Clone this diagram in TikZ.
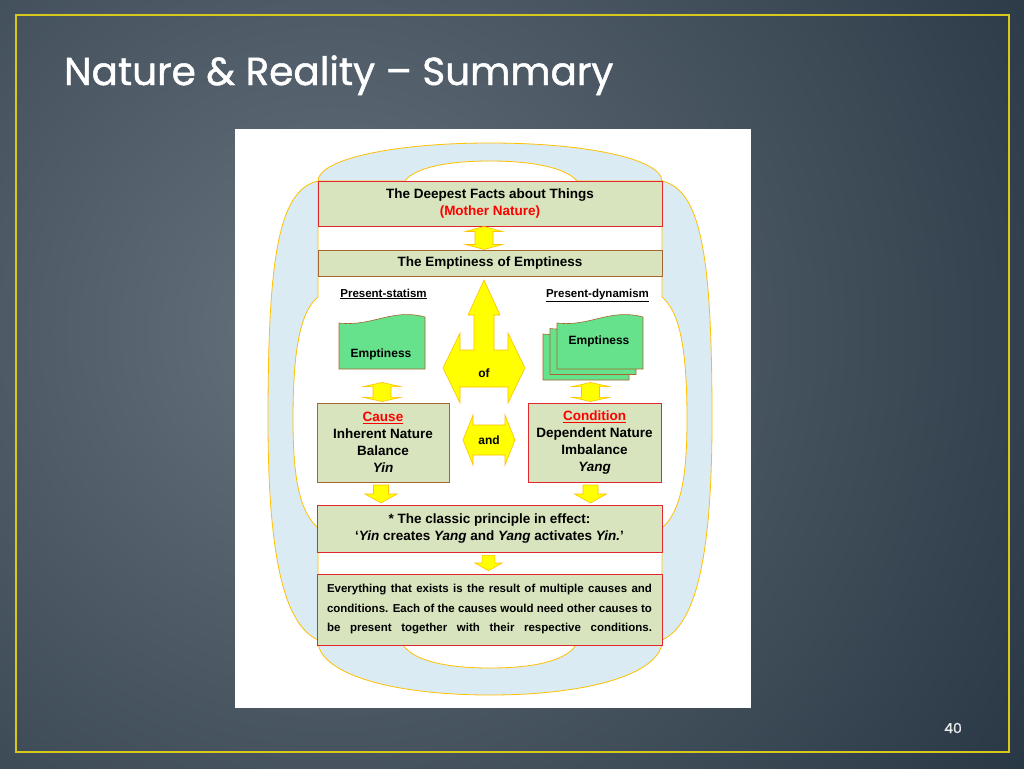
\documentclass[tikz,border=0pt]{standalone}
\usepackage{fontspec}
\setmainfont{Liberation Sans}
\newfontfamily\titlefont[FakeBold=1.2]{Poppins}
\usepackage{tikz}
\usetikzlibrary{positioning,calc}
\definecolor{SlideLight}{HTML}{66727C}
\definecolor{SlideDark}{HTML}{1C2B39}
\definecolor{FrameGold}{HTML}{D8C81C}
\definecolor{BandBlue}{HTML}{DAEBF3}
\definecolor{BandEdge}{HTML}{FFC000}
\definecolor{BoxOlive}{HTML}{D7E4BD}
\definecolor{EdgeRed}{HTML}{E0282E}
\definecolor{EdgeBrown}{HTML}{A9652F}
\definecolor{CardGreen}{HTML}{66E28D}
\definecolor{ArrowYellow}{HTML}{FFFF00}
\definecolor{TextRed}{HTML}{FF0000}
\tikzset{
  % Base box
  FB/.style={rectangle,fill=BoxOlive,draw,line width=1pt,
             align=center,inner sep=0pt,
             font=\fontsize{13.5}{17}\selectfont\bfseries},
  % Colour variants
  bR/.style={FB,draw=EdgeRed},
  bB/.style={FB,draw=EdgeBrown},
  % Loops, block arrows, cards
  band/.style={fill=BandBlue,draw=BandEdge,line width=0.8pt},
  yarr/.style={fill=ArrowYellow,draw=BandEdge,line width=0.6pt},
  card/.style={fill=CardGreen,draw=EdgeBrown,line width=0.6pt},
  % Label styles
  LB/.style={inner sep=0pt,anchor=base,font=\fontsize{11.5}{14}\selectfont\bfseries},
  ET/.style={inner sep=0pt,font=\fontsize{12}{14}\selectfont\bfseries},
  % Shapes as pics
  dblv/.pic={\path[yarr] (0,-11.5) -- (18.5,-6.5) -- (9,-6.5) -- (9,6.5)
             -- (18.5,6.5) -- (0,11.5) -- (-18.5,6.5) -- (-9,6.5)
             -- (-9,-6.5) -- (-18.5,-6.5) -- cycle;},
  downarr/.pic={\path[yarr] (-7.5,-9) -- (7.5,-9) -- (7.5,0) -- (16,0)
             -- (0,9) -- (-16,0) -- (-7.5,0) -- cycle;},
  wcard/.pic={\path[card] (-43,23) -- (-43,-23) .. controls (-10,-19) and (10,-38)
             .. (43,-29) -- (43,23) -- cycle;}
}
\begin{document}
\begin{tikzpicture}[x=1pt,y=-1pt]
  \useasboundingbox (0,0) rectangle (1024,768);
  % slide background
  \begin{scope}
    \clip (0,0) rectangle (1024,768);
    \shade[inner color=SlideLight,outer color=SlideDark] (330,330) circle (1000);
  \end{scope}
  \draw[FrameGold,line width=2.5pt] (16,15) rectangle (1009,752);
  \node[anchor=base west,inner sep=0pt,text=white,
        font=\titlefont\fontsize{39}{39}\selectfont] (title) at (64,85)
        {Nature \& Reality \textendash{} Summary};
  \node[text=white!85!gray,font=\titlefont\fontsize{14}{14}\selectfont] (pnum) at (953,728) {40};
  \fill[white] (235,129) rectangle (751,708);

  % loops
  \path[band] (318,181) .. controls (278,190) and (268,260) .. (268,420)
    .. controls (268,560) and (285,625) .. (318,640) -- (318,528)
    .. controls (300,512) and (293,480) .. (293,420)
    .. controls (293,350) and (300,312) .. (318,297) -- cycle;
  \path[band] (662,181) .. controls (702,190) and (712,260) .. (712,420)
    .. controls (712,560) and (695,625) .. (662,640) -- (662,528)
    .. controls (680,512) and (687,480) .. (687,420)
    .. controls (687,350) and (680,312) .. (662,297) -- cycle;
  \path[band] (318,181) .. controls (318,160) and (390,143) .. (490,143)
    .. controls (590,143) and (662,160) .. (662,181) -- (577,181)
    .. controls (565,167) and (530,161) .. (490,161)
    .. controls (450,161) and (415,167) .. (405,181) -- cycle;
  \path[band] (318,643) .. controls (322,675) and (395,695) .. (490,695)
    .. controls (585,695) and (658,675) .. (662,643) -- (576,645)
    .. controls (565,662) and (530,668) .. (490,668)
    .. controls (450,668) and (415,662) .. (403,645) -- cycle;

  % boxes
  \node[bR,minimum width=344pt,minimum height=45pt] (deep) at (490,203.5)
    {The Deepest Facts about Things\\\textcolor{TextRed}{(Mother Nature)}};
  \node[bB,minimum width=344pt,minimum height=26pt,below=23pt of deep] (void)
    {The Emptiness of Emptiness};
  \node[LB] (statism) at (383.5,297) {\underline{Present-statism}};
  \node[LB] (dynamism) at (597.5,297) {\underline{Present-dynamism}};

  \pic at (382,346) {wcard};
  \node[ET] (emptL) at (381,354) {Emptiness};
  \pic at (586,357) {wcard};
  \pic at (593,351.5) {wcard};
  \pic at (600,346) {wcard};
  \node[ET] (emptR) at (599,341) {Emptiness};

  \node[bB,minimum width=132pt,minimum height=79pt] (cause) at (383,442.5)
    {\textcolor{TextRed}{\underline{Cause}}\\Inherent Nature\\Balance\\\textit{Yin}};
  \node[bR,minimum width=133pt,minimum height=79pt] (cond) at (594.5,442.5)
    {\textcolor{TextRed}{\underline{Condition}}\\Dependent Nature\\Imbalance\\\textit{Yang}};
  \node[bR,minimum width=345pt,minimum height=47pt] (principle) at (489.5,528.5)
    {* The classic principle in effect:\\
     `\textit{Yin} creates \textit{Yang} and \textit{Yang} activates \textit{Yin.}'};
  \node[bR,minimum width=345pt,minimum height=71pt,
        font=\fontsize{11.5}{19.5}\selectfont\bfseries] (final) at (489.5,609.5)
    {\makebox[325pt][s]{Everything that exists is the result of multiple causes and}\\
     \makebox[325pt][s]{conditions. Each of the causes would need other causes to}\\
     \makebox[325pt][s]{be present together with their respective conditions.}};

  % block arrows
  \pic at ($(deep.south)!.5!(void.north)+(-6,0)$) {dblv};
  \pic[yscale=.83] at ($(cause.north)+(-1,-10.5)$) {dblv};
  \pic[yscale=.83] at ($(cond.north)+(-4,-10.5)$) {dblv};
  \pic at ($(cause.south)+(-2,11.5)$) {downarr};
  \pic at ($(cond.south)+(-4,11.5)$) {downarr};
  \pic[scale=.85] at ($(principle.south)!.5!(final.north)+(-1,0)$) {downarr};

  \path[yarr] (484,280) -- (500,315) -- (494,315) -- (494,350) -- (508,350)
    -- (508,333) -- (525,368) -- (508,403) -- (508,387) -- (460,387)
    -- (460,403) -- (443,368) -- (460,333) -- (460,350) -- (474,350)
    -- (474,315) -- (468,315) -- cycle;
  \node[ET] (of) at (484,373) {of};
  \path[yarr] (463,440) -- (473,415) -- (473,425) -- (505,425) -- (505,415)
    -- (515,440) -- (505,465) -- (505,455) -- (473,455) -- (473,465) -- cycle;
  \node[ET] (and) at (489,440) {and};
\end{tikzpicture}
\end{document}
